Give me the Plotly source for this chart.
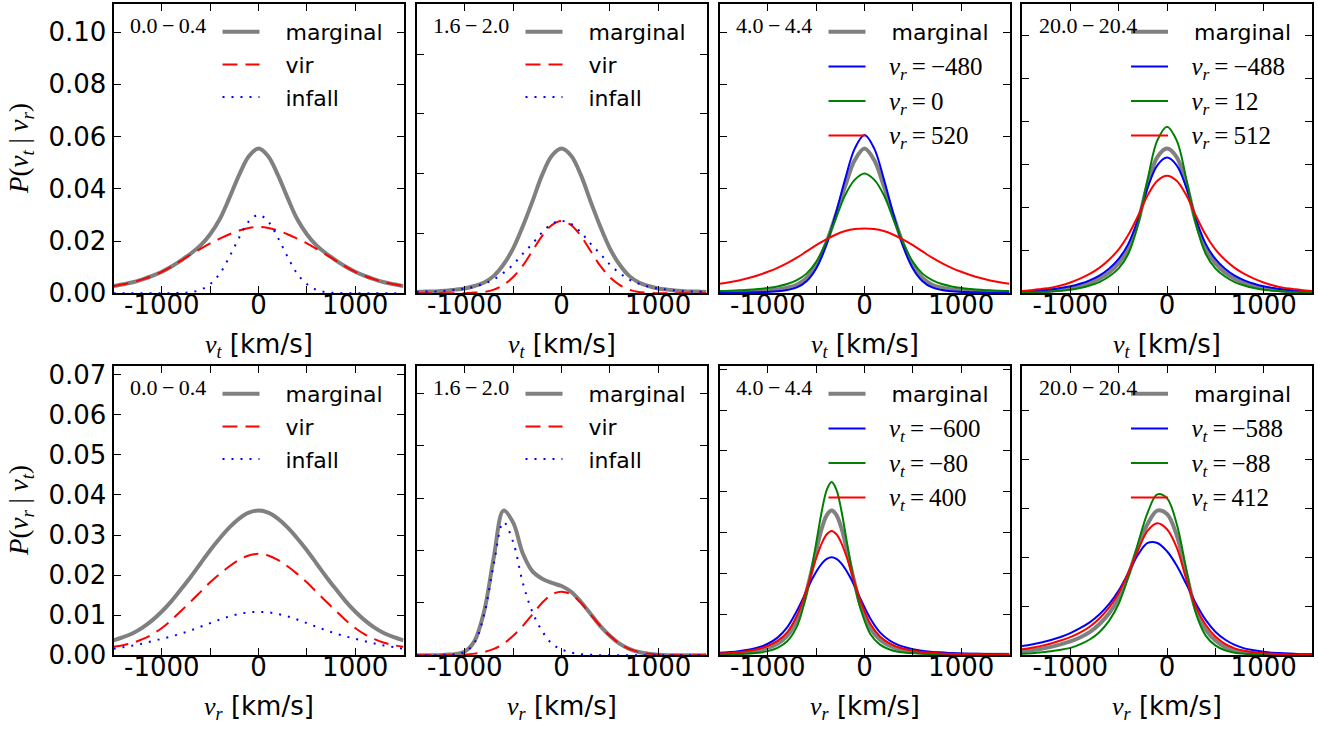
import plotly.graph_objects as go

W, H = 1318, 730

VEL = [-1500, -1400, -1300, -1200, -1100, -1000, -900, -800, -700, -600, -500, -400, -300, -200, -100, 0,
       100, 200, 300, 400, 500, 600, 700, 800, 900, 1000, 1100, 1200, 1300, 1400, 1500]

# ---- top row: P(v_t | v_r) ----
p1_marginal = [.0027, .0034, .0042, .0053, .0066, .0082, .0102, .0126, .0152, .0183, .0226, .0284, .0366, .0453, .0525, .0554,
               .0525, .0453, .0366, .0284, .0226, .0183, .0152, .0126, .0102, .0082, .0066, .0053, .0042, .0034, .0027]
p1_vir = [.0027, .0034, .0042, .0053, .0066, .0082, .0102, .0125, .0148, .0170, .0191, .0209, .0226, .0240, .0250, .0254,
          .0250, .0240, .0226, .0209, .0191, .0170, .0148, .0125, .0102, .0082, .0066, .0053, .0042, .0034, .0027]
p1_infall = [0, 0, 0, 0, 0, 0, 0, .0001, .0004, .0013, .0035, .0075, .0140, .0213, .0275, .0300,
             .0275, .0213, .0140, .0075, .0035, .0013, .0004, .0001, 0, 0, 0, 0, 0, 0, 0]

p2_marginal = [.0002, .0003, .0003, .0004, .0006, .0008, .0012, .0018, .0029, .0048, .0075, .0112, .0154, .0198, .0230, .0242,
               .0230, .0198, .0154, .0112, .0075, .0048, .0029, .0018, .0012, .0008, .0006, .0004, .0003, .0003, .0002]
p2_vir = [0, 0, 0, 0, 0, 0, .0001, .0002, .0006, .0014, .0027, .0046, .0071, .0096, .0114, .0121,
          .0114, .0096, .0071, .0046, .0027, .0014, .0006, .0002, .0001, 0, 0, 0, 0, 0, 0]
p2_infall = [.0002, .0003, .0003, .0004, .0006, .0008, .0011, .0016, .0023, .0034, .0048, .0066, .0083, .0102, .0116, .0121,
             .0116, .0102, .0083, .0066, .0048, .0034, .0023, .0016, .0011, .0008, .0006, .0004, .0003, .0003, .0002]

p3_marginal = [.0004, .0004, .0005, .0006, .0008, .0010, .0014, .0021, .0032, .0058, .0105, .0188, .0295, .0410, .0510, .0554,
               .0510, .0410, .0295, .0188, .0105, .0058, .0032, .0021, .0014, .0010, .0008, .0006, .0005, .0004, .0004]
p3_vr_m480 = [.0001, .0002, .0002, .0003, .0004, .0005, .0007, .0012, .0022, .0046, .0095, .0180, .0301, .0437, .0555, .0606,
              .0555, .0437, .0301, .0180, .0095, .0046, .0022, .0012, .0007, .0005, .0004, .0003, .0002, .0002, .0001]
p3_vr_0 = [.0008, .0009, .0011, .0013, .0016, .0020, .0026, .0035, .0050, .0075, .0120, .0193, .0283, .0376, .0435, .0459,
           .0435, .0376, .0283, .0193, .0120, .0075, .0050, .0035, .0026, .0020, .0016, .0013, .0011, .0009, .0008]
p3_vr_520 = [.0036, .0042, .0049, .0058, .0069, .0082, .0097, .0115, .0136, .0160, .0184, .0205, .0224, .0238, .0246, .0248,
             .0246, .0238, .0224, .0205, .0184, .0160, .0136, .0115, .0097, .0082, .0069, .0058, .0049, .0042, .0036]

p4_marginal = [.0003, .0004, .0005, .0006, .0009, .0012, .0017, .0024, .0034, .0048, .0070, .0104, .0166, .0254, .0317, .0337,
               .0317, .0254, .0166, .0104, .0070, .0048, .0034, .0024, .0017, .0012, .0009, .0006, .0005, .0004, .0003]
p4_vr_m488 = [.0004, .0005, .0006, .0009, .0012, .0016, .0022, .0030, .0041, .0057, .0080, .0115, .0172, .0246, .0298, .0316,
              .0298, .0246, .0172, .0115, .0080, .0057, .0041, .0030, .0022, .0016, .0012, .0009, .0006, .0005, .0004]
p4_vr_12 = [.0002, .0002, .0003, .0004, .0006, .0008, .0012, .0018, .0026, .0039, .0058, .0092, .0160, .0266, .0356, .0388,
            .0356, .0266, .0160, .0092, .0058, .0039, .0026, .0018, .0012, .0008, .0006, .0004, .0003, .0002, .0002]
p4_vr_512 = [.0005, .0007, .0010, .0013, .0018, .0025, .0034, .0045, .0059, .0078, .0102, .0136, .0180, .0228, .0262, .0274,
             .0262, .0228, .0180, .0136, .0102, .0078, .0059, .0045, .0034, .0025, .0018, .0013, .0010, .0007, .0005]

# ---- bottom row: P(v_r | v_t) ----
p5_marginal = [.0037, .0045, .0055, .0069, .0087, .0109, .0135, .0165, .0196, .0229, .0262, .0292, .0319, .0341, .0356, .0361,
               .0356, .0341, .0319, .0292, .0262, .0229, .0196, .0165, .0135, .0109, .0087, .0069, .0055, .0045, .0037]
p5_vir = [.0021, .0025, .0031, .0040, .0052, .0068, .0088, .0111, .0134, .0158, .0182, .0203, .0222, .0238, .0249, .0253,
          .0249, .0238, .0222, .0203, .0182, .0158, .0134, .0111, .0088, .0068, .0052, .0040, .0031, .0025, .0021]
p5_infall = [.0016, .0020, .0024, .0029, .0035, .0041, .0047, .0054, .0062, .0071, .0080, .0089, .0097, .0103, .0107, .0108,
             .0107, .0103, .0097, .0089, .0080, .0071, .0062, .0054, .0047, .0041, .0035, .0029, .0024, .0020, .0016]

p6_marginal = [0, 0, 0, .0001, .0002, .0007, .0027, .0084, .0187, .0276, .0253, .0194, .0160, .0146, .0138, .0132,
               .0121, .0102, .0079, .0056, .0037, .0022, .0012, .0006, .0003, .0001, 0, 0, 0, 0, 0]
p6_vir = [0, 0, 0, 0, 0, .0001, .0003, .0006, .0012, .0022, .0037, .0056, .0078, .0100, .0116, .0121,
          .0116, .0100, .0078, .0056, .0037, .0022, .0012, .0006, .0003, .0001, 0, 0, 0, 0, 0]
p6_infall = [0, 0, 0, .0001, .0002, .0006, .0024, .0078, .0175, .0254, .0216, .0138, .0082, .0046, .0022, .0011,
             .0005, .0002, .0001, 0, 0, 0, 0, 0, 0, 0, 0, 0, 0, 0, 0]

VEL7 = [-1500, -1300, -1100, -1000, -900, -800, -700, -640, -590, -540, -490, -440, -390, -340, -290, -240, -190,
        -140, -90, -40, 60, 160, 260, 360, 560, 760, 1000, 1250, 1500]
p7_marginal = [.0003, .0006, .0012, .0018, .0028, .0047, .0085, .0122, .0165, .0214, .0266, .0312, .0343, .0354, .0343,
               .0312, .0266, .0214, .0165, .0122, .0066, .0038, .0023, .0015, .0007, .0004, .0002, .0001, .0001]
p7_vt_m600 = [.0006, .0010, .0019, .0028, .0043, .0068, .0108, .0137, .0163, .0187, .0208, .0225, .0236, .0240, .0236,
              .0225, .0208, .0187, .0163, .0137, .0090, .0056, .0036, .0024, .0012, .0007, .0004, .0003, .0002]
p7_vt_m80 = [.0002, .0003, .0006, .0010, .0018, .0034, .0070, .0113, .0160, .0220, .0288, .0355, .0405, .0424, .0405,
             .0355, .0288, .0220, .0160, .0113, .0052, .0026, .0014, .0008, .0004, .0002, .0001, .0001, 0]
p7_vt_400 = [.0004, .0007, .0015, .0023, .0035, .0056, .0096, .0132, .0168, .0207, .0244, .0275, .0296, .0304, .0296,
             .0275, .0244, .0207, .0168, .0132, .0077, .0046, .0029, .0019, .0009, .0005, .0003, .0002, .0001]

p8_marginal = [.0008, .0010, .0013, .0017, .0022, .0028, .0036, .0047, .0063, .0085, .0117, .0164, .0220, .0268, .0295, .0288,
               .0245, .0165, .0092, .0052, .0030, .0017, .0010, .0006, .0004, .0003, .0002, .0001, .0001, 0, 0]
p8_vt_m588 = [.0019, .0022, .0026, .0031, .0037, .0045, .0055, .0067, .0083, .0104, .0132, .0168, .0205, .0229, .0229, .0212,
              .0183, .0145, .0105, .0072, .0048, .0032, .0021, .0014, .0010, .0007, .0005, .0004, .0003, .0002, .0002]
p8_vt_m88 = [.0003, .0004, .0006, .0008, .0011, .0015, .0022, .0032, .0047, .0070, .0105, .0160, .0228, .0291, .0328, .0320,
             .0268, .0175, .0085, .0040, .0020, .0010, .0005, .0003, .0002, .0001, 0, 0, 0, 0, 0]
p8_vt_412 = [.0012, .0015, .0019, .0024, .0030, .0037, .0046, .0058, .0075, .0097, .0127, .0168, .0214, .0254, .0269, .0257,
             .0220, .0155, .0098, .0062, .0038, .0023, .0014, .0009, .0006, .0004, .0003, .0002, .0001, .0001, .0001]

panel_tags = ['0.0\u2009\u2212\u20090.4', '1.6\u2009\u2212\u20092.0', '4.0\u2009\u2212\u20094.4', '20.0\u2009\u2212\u200920.4']
x_tick_vals = [-1000, -500, 0, 500, 1000]
x_tick_text = ['-1000', '', '0', '', '1000']

GRAY, RED, BLUE, GREEN = '#808080', '#ff0000', '#0000ff', '#008000'
SANS = 'DejaVu Sans'
SERIF = 'Liberation Serif'
PAD = '\u00a0\u00a0\u00a0'


def mlab(sym, val):
    return ('\u00a0\u00a0\u2009' + f'<span style="font-family:{SERIF};font-size:25px"><i>v</i><sub><i>{sym}</i></sub>'
            f'\u2009=\u2009{val}</span>')


def solid(c, w=2):
    return dict(color=c, width=w)


MARG = dict(color=GRAY, width=4)
VIR = dict(color=RED, width=2, dash='15px,8px')
INF = dict(color=BLUE, width=2, dash='2px,7px')

panels = [
    dict(x=VEL, series=[(PAD + 'marginal', p1_marginal, MARG), (PAD + 'vir', p1_vir, VIR), (PAD + 'infall', p1_infall, INF)],
         dtick=0.02, marg=p1_marginal, gap=1),
    dict(x=VEL, series=[(PAD + 'marginal', p2_marginal, MARG), (PAD + 'vir', p2_vir, VIR), (PAD + 'infall', p2_infall, INF)],
         dtick=0.01, marg=p2_marginal, gap=1),
    dict(x=VEL, series=[(PAD + 'marginal', p3_marginal, MARG), (mlab('r', '\u2212480'), p3_vr_m480, solid(BLUE)),
                        (mlab('r', '0'), p3_vr_0, solid(GREEN)), (mlab('r', '520'), p3_vr_520, solid(RED))],
         dtick=0.02, marg=p3_marginal, gap=3),
    dict(x=VEL, series=[(PAD + 'marginal', p4_marginal, MARG), (mlab('r', '\u2212488'), p4_vr_m488, solid(BLUE)),
                        (mlab('r', '12'), p4_vr_12, solid(GREEN)), (mlab('r', '512'), p4_vr_512, solid(RED))],
         dtick=0.01, marg=p4_marginal, gap=3),
    dict(x=VEL, series=[(PAD + 'marginal', p5_marginal, MARG), (PAD + 'vir', p5_vir, VIR), (PAD + 'infall', p5_infall, INF)],
         dtick=0.01, marg=p5_marginal, gap=1),
    dict(x=VEL, series=[(PAD + 'marginal', p6_marginal, MARG), (PAD + 'vir', p6_vir, VIR), (PAD + 'infall', p6_infall, INF)],
         dtick=0.01, marg=p6_marginal, gap=1),
    dict(x=VEL7, series=[(PAD + 'marginal', p7_marginal, MARG), (mlab('t', '\u2212600'), p7_vt_m600, solid(BLUE)),
                         (mlab('t', '\u221280'), p7_vt_m80, solid(GREEN)), (mlab('t', '400'), p7_vt_400, solid(RED))],
         dtick=0.01, marg=p7_marginal, gap=3),
    dict(x=VEL, series=[(PAD + 'marginal', p8_marginal, MARG), (mlab('t', '\u2212588'), p8_vt_m588, solid(BLUE)),
                        (mlab('t', '\u221288'), p8_vt_m88, solid(GREEN)), (mlab('t', '412'), p8_vt_412, solid(RED))],
         dtick=0.01, marg=p8_marginal, gap=3),
]

LEFTS = [113.5, 416.5, 719.5, 1022.0]
PW = 290.0
TOPS = [4.0, 366.0]
PH = 289.2

fig = go.Figure()
layout = dict(width=W, height=H, autosize=False,
              margin=dict(l=0, r=0, t=0, b=0, pad=0, autoexpand=False),
              paper_bgcolor='white', plot_bgcolor='white', showlegend=True, annotations=[])

for k, p in enumerate(panels, start=1):
    row, col = (k - 1) // 4, (k - 1) % 4
    left, top = LEFTS[col], TOPS[row]
    xa = 'x' if k == 1 else f'x{k}'
    ya = 'y' if k == 1 else f'y{k}'
    lg = 'legend' if k == 1 else f'legend{k}'
    for j, (name, yv, line) in enumerate(p['series']):
        fig.add_trace(go.Scatter(x=p['x'], y=yv, mode='lines', name=name, line=dict(shape='spline', **line),
                                 xaxis=xa, yaxis=ya, legend=lg, legendgroup=f'g{k}_{j}', hoverinfo='skip'))
    ymax = 2 * max(p['marg'])
    common = dict(showline=True, linecolor='black', linewidth=2, mirror='ticks', ticks='inside',
                  ticklen=7, tickwidth=1.3, tickcolor='black', showgrid=False, zeroline=False, automargin=False,
                  tickfont=dict(family=SANS, size=26, color='black'))
    layout['xaxis' if k == 1 else f'xaxis{k}'] = dict(
        domain=[left / W, (left + PW) / W], anchor=ya, range=[-1500, 1500],
        tickmode='array', tickvals=x_tick_vals, ticktext=x_tick_text, ticklabelstandoff=-12, **common)
    layout['yaxis' if k == 1 else f'yaxis{k}'] = dict(
        domain=[1 - (top + PH) / H, 1 - top / H], anchor=xa, range=[0, ymax],
        tick0=0, dtick=p['dtick'], tickformat='.2f', showticklabels=(col == 0), ticklabelstandoff=0, **common)
    layout[lg] = dict(x=(left + 104) / W, y=1 - (top + 7) / H, xanchor='left', yanchor='top',
                      bgcolor='rgba(0,0,0,0)', borderwidth=0, itemwidth=37, tracegroupgap=p['gap'],
                      font=dict(family=SANS, size=22, color='black'))
    xd = f'{xa} domain'
    yd = f'{ya} domain'
    layout['annotations'].append(dict(
        text=f'<span style="font-family:{SERIF}">{panel_tags[col]}</span>', xref=xd, yref=yd,
        x=14.5 / PW, y=1 - 21.5 / PH, xanchor='left', yanchor='middle', showarrow=False,
        font=dict(size=22, color='black')))
    sym = 't' if row == 0 else 'r'
    layout['annotations'].append(dict(
        text=f'<span style="font-family:{SERIF}"><i>v</i><sub><i>{sym}</i></sub></span> [km/s]',
        xref=xd, yref=yd, x=0.5, y=-52 / PH, xanchor='center', yanchor='middle', showarrow=False,
        font=dict(family=SANS, size=26, color='black')))
    if col == 0:
        a, b = ('t', 'r') if row == 0 else ('r', 't')
        layout['annotations'].append(dict(
            text=(f'<span style="font-family:{SERIF}"><i>P</i>(<i>v</i><sub><i>{a}</i></sub> | '
                  f'<i>v</i><sub><i>{b}</i></sub>)</span>'),
            xref=xd, yref=yd, x=(20.5 - left) / PW, y=0.5, xanchor='center', yanchor='middle',
            textangle=-90, showarrow=False, font=dict(size=27, color='black')))

fig.update_layout(**layout)

PAGE_CSS = ("var d=document.documentElement,b=document.body;"
            "d.style.margin='0';d.style.padding='0';d.style.overflow='hidden';"
            "b.style.margin='0';b.style.padding='0';b.style.overflow='hidden';")
fig.write_html('out.html', config={'displayModeBar': False}, post_script=PAGE_CSS)
